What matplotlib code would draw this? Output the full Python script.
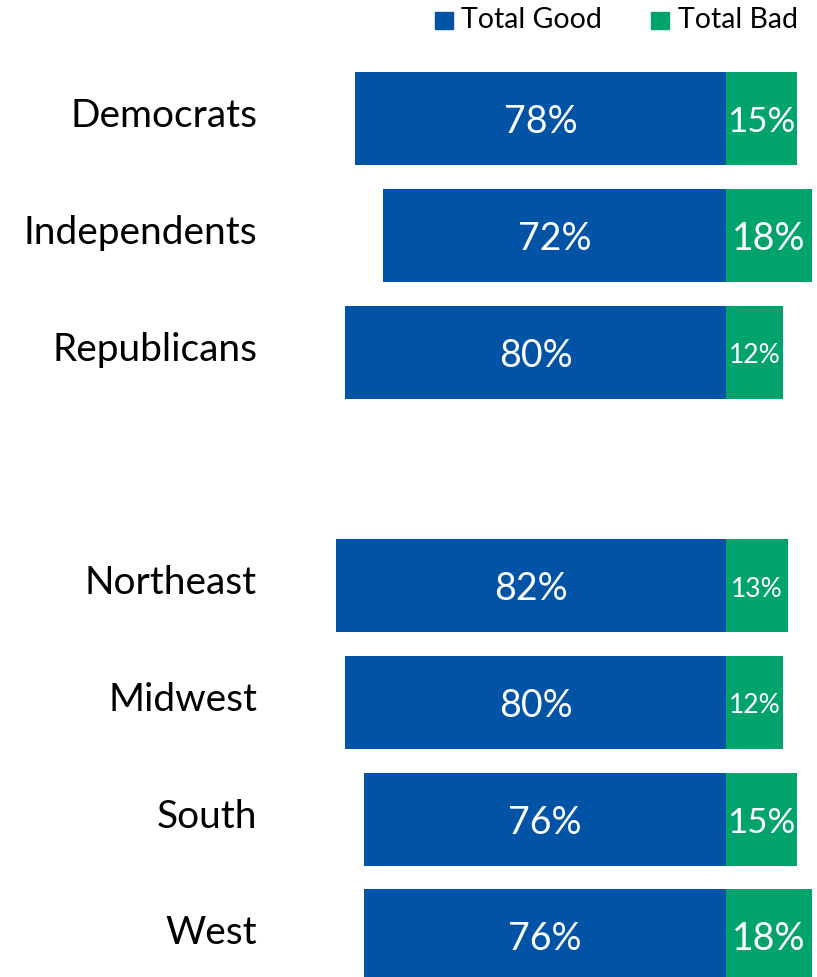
import matplotlib
matplotlib.use("Agg")
import matplotlib.pyplot as plt
from matplotlib.patches import Rectangle

plt.rcParams['font.family'] = ['Lato', 'DejaVu Sans']

# Survey groups; None marks the blank spacer between party and region blocks
groups = ["Democrats", "Independents", "Republicans", None,
          "Northeast", "Midwest", "South", "West"]
total_good = [78, 72, 80, None, 82, 80, 76, 76]
total_bad = [15, 18, 12, None, 13, 12, 15, 18]
series_names = ["Total Good", "Total Bad"]

BLUE = "#0053A5"
GREEN = "#00A36C"

W, H = 817, 977
fig = plt.figure(figsize=(W / 100, H / 100), dpi=100)
ax = fig.add_axes([0, 0, 1, 1])

PX_PER_PCT = 4.76
ZERO_PX = 726
ROW0_PX = 118.5
ROW_PX = 116.75
ax.set_xlim(-ZERO_PX / PX_PER_PCT, (W - ZERO_PX) / PX_PER_PCT)
ax.set_ylim((H - ROW0_PX) / ROW_PX, -ROW0_PX / ROW_PX)
ax.axis("off")


def bad_label_size(v):
    # narrow green segments get smaller labels so the text fits inside
    if v >= 18:
        return 27
    if v >= 15:
        return 25
    return 19


bar_h = 93 / ROW_PX
for i, (name, g, b) in enumerate(zip(groups, total_good, total_bad)):
    if name is None:
        continue
    ax.barh(i, -g, height=bar_h, color=BLUE, edgecolor="none")
    ax.barh(i, b, height=bar_h, color=GREEN, edgecolor="none")
    ax.text(-g / 2, i + 0.03, f"{g}%", color="white", fontsize=27,
            ha="center", va="center")
    ax.text(b / 2, i + 0.03, f"{b}%", color="white",
            fontsize=bad_label_size(b), ha="center", va="center")
    ax.text((257 - ZERO_PX) / PX_PER_PCT, i - 0.02, name, color="black",
            fontsize=28, ha="right", va="center")

# Legend across the top
for (x0, tx), label, col in zip([(435, 461), (651, 678)], series_names,
                                [BLUE, GREEN]):
    fig.patches.append(Rectangle((x0 / W, 1 - 29 / H), 18 / W, 17 / H,
                                 transform=fig.transFigure, color=col))
    fig.text(tx / W, 1 - 20 / H, label, fontsize=20.5, ha="left",
             va="center", color="black")

fig.savefig("out.png", dpi=100)
